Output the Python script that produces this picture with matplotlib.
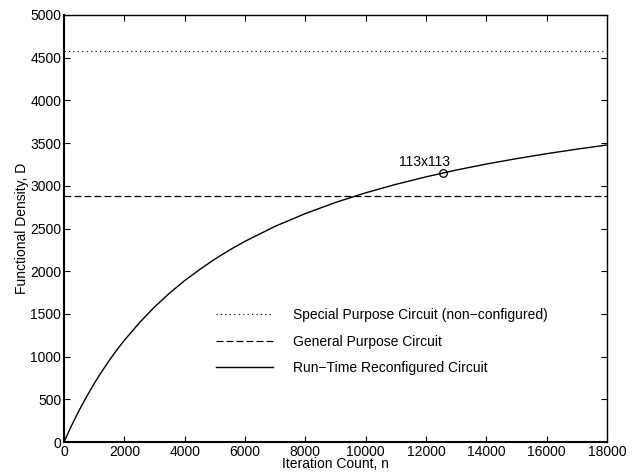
import matplotlib
matplotlib.use("Agg")
import matplotlib.pyplot as plt

plt.rcParams['font.family'] = ['Liberation Sans', 'DejaVu Sans']

# values
iterations = [0, 250, 500, 750, 1000, 1250, 1500, 1750, 2000, 2500, 3000, 3500,
              4000, 4500, 5000, 5500, 6000, 7000, 8000, 9000, 10000, 11000,
              12000, 13000, 14000, 15000, 16000, 17000, 18000]
density_rtr = [0, 193, 370, 532, 685, 824, 956, 1078, 1191, 1397, 1581, 1744,
               1890, 2021, 2142, 2251, 2350, 2526, 2675, 2805, 2918, 3017,
               3105, 3184, 3255, 3318, 3376, 3429, 3478]
density_special = 4575
density_general = 2884
marker_n = 12550
marker_d = 3150
marker_label = "113x113"


def plot_data():
    fig = plt.figure(figsize=(6.37, 4.76), dpi=100)
    ax = fig.add_axes([0.1005, 0.0714, 0.8525, 0.8971])

    ax.axhline(density_special, color='black', lw=0.8, linestyle=(0, (1, 3)),
               label='Special Purpose Circuit (non\u2212configured)')
    ax.axhline(density_general, color='black', lw=0.9, linestyle=(0, (5.5, 2.5)),
               label='General Purpose Circuit')
    ax.plot(iterations, density_rtr, color='black', lw=1.0,
            label='Run\u2212Time Reconfigured Circuit')
    ax.plot([marker_n], [marker_d], marker='o', mfc='none', mec='black',
            ms=5.5, mew=0.9, linestyle='none')
    ax.annotate(marker_label, (marker_n, marker_d), xytext=(-13, 8),
                textcoords='offset points', ha='center', va='center', fontsize=10)

    ax.set_xlim(0, 18000)
    ax.set_ylim(0, 5000)
    ax.set_xticks(range(0, 18001, 2000))
    ax.set_yticks(range(0, 5001, 500))
    ax.tick_params(direction='in', top=True, right=True, labelsize=10,
                   length=4, width=0.8, pad=2)
    for side in ['left', 'bottom']:
        ax.spines[side].set_linewidth(1.5)
    for side in ['top', 'right']:
        ax.spines[side].set_linewidth(1.0)

    ax.set_xlabel('Iteration Count, n', fontsize=10, labelpad=-1)
    ax.set_ylabel('Functional Density, D', fontsize=10, labelpad=1)

    ax.legend(loc='upper left', bbox_to_anchor=(0.269, 0.326), frameon=False,
              fontsize=10, handlelength=4.1, handletextpad=1.5, labelspacing=0.9,
              borderaxespad=0)

    fig.savefig('out.png', dpi=100)


if __name__ == "__main__":
    plot_data()
